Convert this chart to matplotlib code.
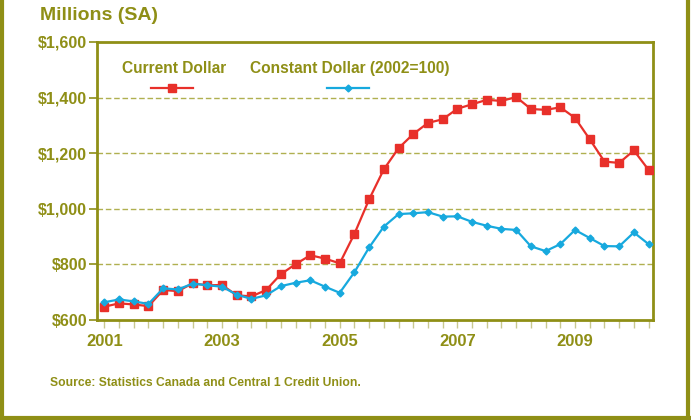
import matplotlib
matplotlib.use("Agg")
import matplotlib.pyplot as plt
from matplotlib.lines import Line2D

# quarterly, 2001Q1 .. 2010Q2, millions of dollars (SA)
quarters = list(range(38))
current_dollar = [648, 660, 656, 650, 708, 704, 732, 725, 726, 689,
                  685, 708, 765, 801, 833, 821, 804, 910, 1034, 1142,
                  1218, 1269, 1309, 1322, 1360, 1376, 1392, 1388, 1402, 1359,
                  1356, 1365, 1327, 1250, 1170, 1165, 1210, 1140]
constant_dollar = [664, 674, 667, 658, 714, 710, 731, 725, 720, 691,
                   676, 689, 722, 734, 743, 720, 698, 772, 861, 936,
                   981, 984, 988, 972, 973, 953, 939, 928, 924, 865,
                   848, 873, 924, 895, 866, 865, 915, 873]
year_labels = ["2001", "2003", "2005", "2007", "2009"]
y_ticks = [600, 800, 1000, 1200, 1400, 1600]

olive = "#8f8f16"
grid_col = "#b0b050"
red = "#e8302a"
blue = "#17a9de"

plt.rcParams["font.family"] = ["Liberation Sans", "DejaVu Sans"]
plt.rcParams["font.weight"] = "bold"

fig = plt.figure(figsize=(6.91, 4.2), dpi=100)
ax = fig.add_axes([0.1404, 0.238, 0.945 - 0.1404, 0.9 - 0.238])

ax.plot(quarters, current_dollar, color=red, lw=1.6, marker="s", ms=6,
        markeredgecolor=red, zorder=3)
ax.plot(quarters, constant_dollar, color=blue, lw=1.6, marker="D", ms=3.5,
        markeredgecolor=blue, zorder=4)

ax.set_xlim(-0.5, 37.3)
ax.set_ylim(600, 1600)
ax.set_yticks(y_ticks)
ax.set_yticklabels(["${:,}".format(v) for v in y_ticks], fontsize=11.5,
                   color=olive, fontweight="bold")
for v in y_ticks[1:-1]:
    ax.axhline(v, color=grid_col, lw=1, ls=(0, (4, 2)), zorder=1)

ax.set_xticks(quarters)
ax.set_xticklabels([""] * len(quarters))
for i, lab in enumerate(year_labels):
    ax.text(quarters[i * 8], -0.05, lab, transform=ax.get_xaxis_transform(),
            ha="center", va="top", fontsize=12, color=olive, fontweight="bold")
ax.tick_params(axis="x", direction="out", length=6, width=1, color="#c8c890")
ax.tick_params(axis="y", direction="out", length=6, width=1.2, color=olive,
               pad=1)

for s in ax.spines.values():
    s.set_color(olive)
    s.set_linewidth(2)

# legend, text above line sample
ax.text(0.045, 0.905, "Current Dollar", transform=ax.transAxes, fontsize=11.2,
        color=olive, fontweight="bold", va="center")
ax.add_line(Line2D([0.097, 0.172], [0.835, 0.835], transform=ax.transAxes,
                   color=red, lw=1.6))
ax.plot([0.134], [0.835], transform=ax.transAxes, marker="s", color=red, ms=6)
ax.text(0.275, 0.905, "Constant Dollar (2002=100)", transform=ax.transAxes,
        fontsize=11.2, color=olive, fontweight="bold", va="center")
ax.add_line(Line2D([0.413, 0.489], [0.835, 0.835], transform=ax.transAxes,
                   color=blue, lw=1.6))
ax.plot([0.451], [0.835], transform=ax.transAxes, marker="D", color=blue, ms=3.5)

fig.text(40 / 691, 1 - 15 / 420, "Millions (SA)", fontsize=14, color=olive,
         fontweight="bold", va="center")
fig.text(50 / 691, 1 - 383 / 420,
         "Source: Statistics Canada and Central 1 Credit Union.",
         fontsize=8.7, color=olive, fontweight="bold", va="center")

# outer frame: left, right, bottom
fig.add_artist(Line2D([0.003, 0.003], [0.0, 1.0], transform=fig.transFigure,
                      color=olive, lw=3))
fig.add_artist(Line2D([0.996, 0.996], [0.0, 1.0], transform=fig.transFigure,
                      color=olive, lw=3))
fig.add_artist(Line2D([0.0, 1.0], [0.005, 0.005], transform=fig.transFigure,
                      color=olive, lw=3))

fig.savefig("out.png", dpi=100)
